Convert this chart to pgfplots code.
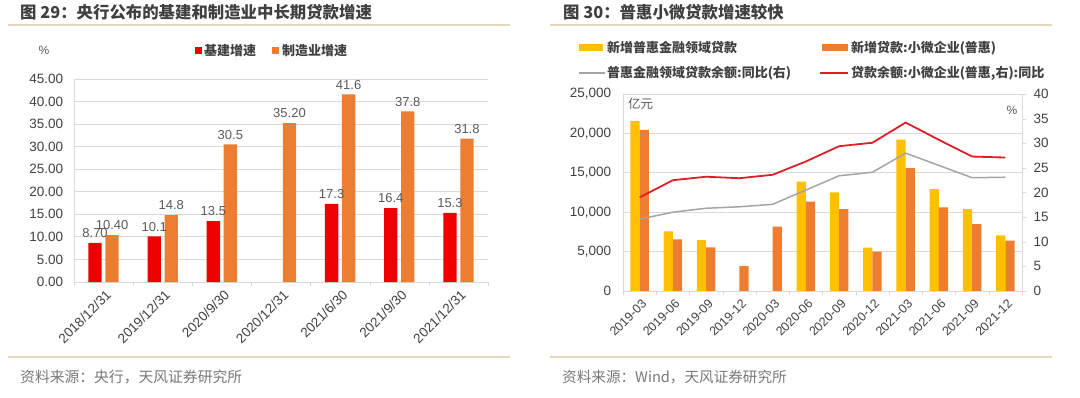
\documentclass[border=0pt]{standalone}
\usepackage{pgfplots}
\pgfplotsset{compat=1.18}
\usepackage{fontspec}
\setmainfont{Liberation Sans}
\newfontfamily\cjk{Noto Sans CJK SC}
\definecolor{sepc}{RGB}{232,214,188}
\definecolor{titlec}{RGB}{64,64,64}
\definecolor{srcc}{RGB}{120,120,120}
\definecolor{gridc}{RGB}{217,217,217}
\definecolor{tickc}{RGB}{64,64,64}
\definecolor{labc}{RGB}{89,89,89}
\definecolor{lred}{RGB}{238,0,0}
\definecolor{lorange}{RGB}{237,125,49}
\definecolor{ryellow}{RGB}{255,192,0}
\definecolor{rorange}{RGB}{237,125,49}
\definecolor{rgray}{RGB}{165,165,165}
\definecolor{rred}{RGB}{222,30,40}
\newcommand\fs[1]{\fontsize{#1}{#1}\selectfont}
\begin{document}
\begin{tikzpicture}
\path[use as bounding box] (0pt,0pt) rectangle (1080pt,-398pt);
% separators
\draw[sepc, line width=1.5pt] (8pt,-25pt) -- (510pt,-25pt);
\draw[sepc, line width=1.5pt] (550pt,-25pt) -- (1052pt,-25pt);
\draw[sepc, line width=1.5pt] (8pt,-357pt) -- (510pt,-357pt);
\draw[sepc, line width=1.5pt] (550pt,-357pt) -- (1052pt,-357pt);
% titles
\node[anchor=west, text=titlec, font=\cjk\bfseries\fs{16.4}, inner sep=0pt] at (20pt,-12pt) {图 29：央行公布的基建和制造业中长期贷款增速};
\node[anchor=west, text=titlec, font=\cjk\bfseries\fs{16.4}, inner sep=0pt] at (563pt,-12pt) {图 30：普惠小微贷款增速较快};
% sources
\node[anchor=west, text=srcc, font=\cjk\fs{14.8}, inner sep=0pt] at (20pt,-377pt) {资料来源：央行，天风证券研究所};
\node[anchor=west, text=srcc, font=\cjk\fs{14.6}, inner sep=0pt] at (562pt,-377pt) {资料来源：Wind，天风证券研究所};

% ---------- left chart ----------
\node[anchor=center, text=labc, font=\fs{12}, inner sep=0pt] at (44pt,-50pt) {\%};
\fill[lred] (195pt,-47.5pt) rectangle (202pt,-54.5pt);
\node[anchor=west, text=titlec, font=\cjk\bfseries\fs{13}, inner sep=0pt] at (204pt,-51pt) {基建增速};
\fill[lorange] (272pt,-47.5pt) rectangle (279pt,-54.5pt);
\node[anchor=west, text=titlec, font=\cjk\bfseries\fs{13}, inner sep=0pt] at (282pt,-51pt) {制造业增速};

\begin{axis}[
  at={(74pt,-282pt)}, anchor=south west,
  width=414pt, height=203pt, scale only axis,
  xmin=-0.5, xmax=6.5, ymin=0, ymax=45,
  ybar, bar width=13.3pt,
  xtick={0,...,6},
  xticklabels={2018/12/31,2019/12/31,2020/9/30,2020/12/31,2021/6/30,2021/9/30,2021/12/31},
  minor xtick={-0.5,0.5,...,6.5},
  major x tick style={draw=none},
  minor x tick style={gridc},
  minor tick length=4pt,
  tick align=outside,
  xticklabel style={rotate=45, anchor=north east, font=\fs{13.5}, text=tickc, inner sep=1pt, yshift=-2pt},
  ytick={0,5,...,45},
  ytick style={draw=none},
  yticklabel style={font=\fs{13.5}, text=tickc, xshift=-3pt, /pgf/number format/.cd, fixed, fixed zerofill, precision=2, assume math mode=true},
  ymajorgrids, grid style={gridc, line width=0.8pt},
  axis x line*=bottom, axis y line*=left,
  axis line style={gridc, line width=0.8pt, -},
  point meta=explicit symbolic,
  nodes near coords,
  every node near coord/.append style={font=\fs{13}, text=labc, anchor=south, yshift=4pt, inner sep=1pt},
]
\addplot[fill=lred, draw=none, bar shift=-8.5pt] coordinates {
(0,8.70) [8.70] (1,10.1) [10.1] (2,13.5) [13.5] (4,17.3) [17.3] (5,16.4) [16.4] (6,15.3) [15.3]};
\addplot[fill=lorange, draw=none, bar shift=8.5pt] coordinates {
(0,10.40) [10.40] (1,14.8) [14.8] (2,30.5) [30.5] (3,35.20) [35.20] (4,41.6) [41.6] (5,37.8) [37.8] (6,31.8) [31.8]};
\end{axis}

% ---------- right chart ----------
\fill[ryellow] (579pt,-44.5pt) rectangle (603pt,-51.5pt);
\node[anchor=west, text=titlec, font=\cjk\bfseries\fs{13}, inner sep=0pt] at (607pt,-48pt) {新增普惠金融领域贷款};
\fill[rorange] (822pt,-44.5pt) rectangle (848pt,-51.5pt);
\node[anchor=west, text=titlec, font=\cjk\bfseries\fs{13}, inner sep=0pt] at (851pt,-48pt) {新增贷款:小微企业(普惠)};
\draw[rgray, line width=1.5pt] (579pt,-73pt) -- (605pt,-73pt);
\node[anchor=west, text=titlec, font=\cjk\bfseries\fs{13}, inner sep=0pt] at (607pt,-73pt) {普惠金融领域贷款余额:同比(右)};
\draw[rred, line width=1.5pt] (820pt,-73pt) -- (848pt,-73pt);
\node[anchor=west, text=titlec, font=\cjk\bfseries\fs{13}, inner sep=0pt] at (851pt,-73pt) {贷款余额:小微企业(普惠,右):同比};

\begin{axis}[
  at={(623pt,-291pt)}, anchor=south west,
  width=399pt, height=197pt, scale only axis,
  xmin=-0.5, xmax=11.5, ymin=0, ymax=25000,
  ybar, bar width=9.3pt,
  xtick={0,...,11},
  xticklabels={2019-03,2019-06,2019-09,2019-12,2020-03,2020-06,2020-09,2020-12,2021-03,2021-06,2021-09,2021-12},
  minor xtick={-0.5,0.5,...,11.5},
  major x tick style={draw=none},
  minor x tick style={gridc},
  minor tick length=4pt,
  tick align=outside,
  xticklabel style={rotate=45, anchor=north east, font=\fs{12.5}, text=tickc, inner sep=1pt, yshift=-2pt},
  ytick={0,5000,...,25000},
  scaled y ticks=false,
  ytick style={draw=none},
  yticklabel style={font=\fs{13.5}, text=tickc, xshift=-4pt, /pgf/number format/.cd, fixed, 1000 sep={,}, assume math mode=true},
  ymajorgrids, grid style={gridc, line width=0.8pt},
  axis x line*=bottom, axis y line*=left,
  axis line style={gridc, line width=0.8pt, -},
]
\addplot[fill=ryellow, draw=none, bar shift=-4.65pt] coordinates {
(0,21600) (1,7580) (2,6470) (5,13870) (6,12520) (7,5500) (8,19200) (9,12940) (10,10400) (11,7070)};
\addplot[fill=rorange, draw=none, bar shift=4.65pt] coordinates {
(0,20450) (1,6560) (2,5540) (3,3170) (4,8160) (5,11330) (6,10400) (7,4990) (8,15600) (9,10620) (10,8500) (11,6390)};
\end{axis}
\begin{axis}[
  at={(623pt,-291pt)}, anchor=south west,
  width=399pt, height=197pt, scale only axis,
  xmin=-0.5, xmax=11.5, ymin=0, ymax=40,
  axis x line=none,
  axis y line*=right,
  axis line style={gridc, line width=0.8pt, -},
  ytick={0,5,...,40},
  ytick style={gridc},
  tick align=outside, major tick length=4pt,
  yticklabel style={font=\fs{13.5}, text=tickc, xshift=4pt, /pgf/number format/assume math mode=true},
]
\addplot[rgray, line width=1.5pt, mark=none] coordinates {
(0,14.6) (1,16.0) (2,16.8) (3,17.1) (4,17.6) (5,20.5) (6,23.4) (7,24.1) (8,28.0) (9,25.5) (10,23.0) (11,23.1)};
\addplot[rred, line width=1.8pt, mark=none] coordinates {
(0,19.0) (1,22.5) (2,23.2) (3,22.9) (4,23.6) (5,26.3) (6,29.4) (7,30.1) (8,34.2) (9,30.7) (10,27.3) (11,27.1)};
\end{axis}
\node[anchor=west, text=labc, font=\cjk\fs{12.5}, inner sep=0pt] at (628pt,-104pt) {亿元};
\node[anchor=center, text=labc, font=\fs{12}, inner sep=0pt] at (1012pt,-110pt) {\%};
\end{tikzpicture}
\end{document}
